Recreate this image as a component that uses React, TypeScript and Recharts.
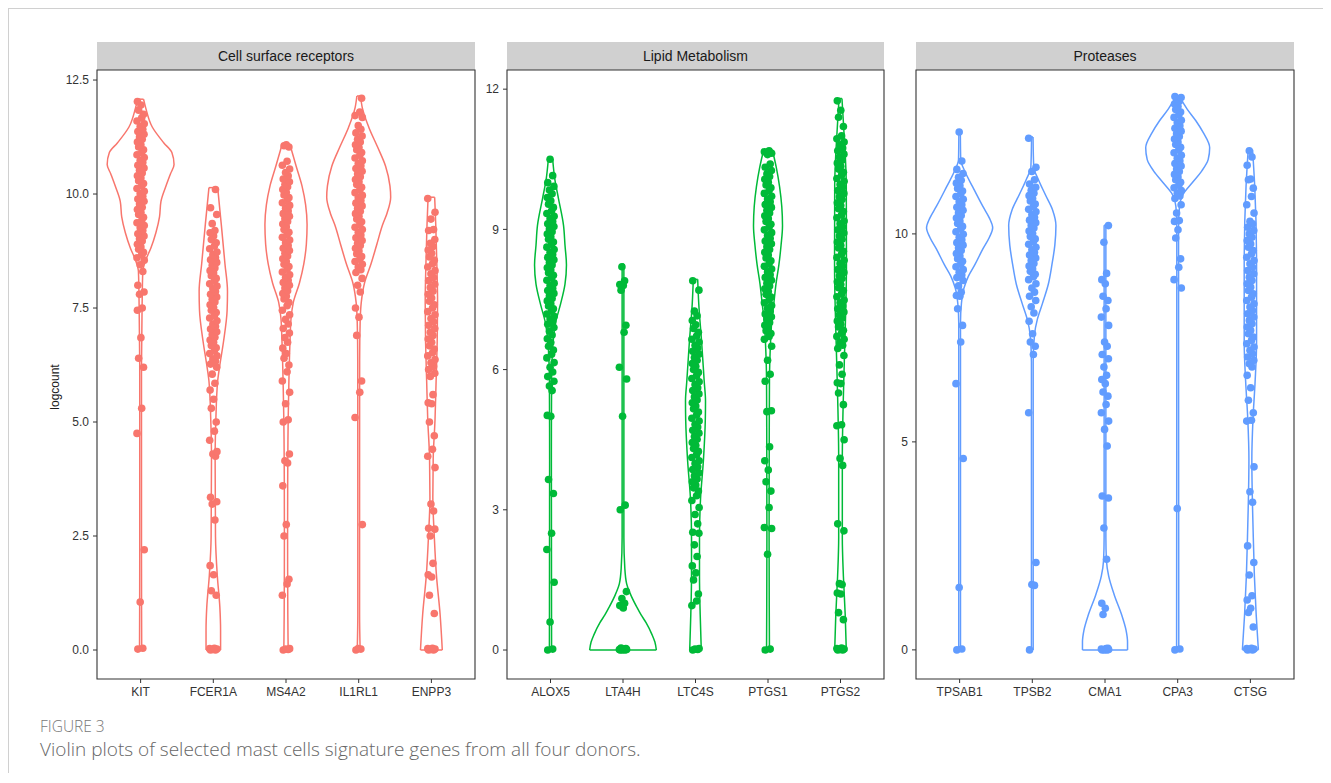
import { ComposedChart, XAxis, YAxis, Line, Scatter, ReferenceArea } from "recharts";

const PANEL_TITLES = ["Cell surface receptors", "Lipid Metabolism", "Proteases"];
const GENES_SURFACE = ["KIT", "FCER1A", "MS4A2", "IL1RL1", "ENPP3"];
const GENES_LIPID = ["ALOX5", "LTA4H", "LTC4S", "PTGS1", "PTGS2"];
const GENES_PROTEASE = ["TPSAB1", "TPSB2", "CMA1", "CPA3", "CTSG"];

const TICKS_SURFACE = [0, 2.5, 5, 7.5, 10, 12.5];
const TICKS_LIPID = [0, 3, 6, 9, 12];
const TICKS_PROTEASE = [0, 5, 10];

// logcount of each cell, per gene
const KIT = [0.02, 0.04, 1.05, 2.2, 4.75, 5.3, 6.2, 6.4, 6.85, 7.45, 7.5, 7.8, 7.85, 8.0, 8.3, 8.45,
  8.55, 8.6, 8.67, 8.72, 8.79, 8.84, 8.9, 8.97, 9.02, 9.08, 9.13, 9.2, 9.26, 9.31, 9.37, 9.42, 9.49, 9.55, 9.6, 9.66,
  9.71, 9.78, 9.84, 9.89, 9.95, 10.01, 10.06, 10.12, 10.18, 10.23, 10.29, 10.35, 10.4, 10.46, 10.52, 10.57, 10.63,
  10.69, 10.74, 10.8, 10.86, 10.91, 10.97, 11.03, 11.08, 11.14, 11.2, 11.25, 11.31, 11.37, 11.42, 11.48, 11.54, 11.6,
  11.67, 11.75, 11.84, 11.95, 12.03];
const FCER1A = [0, 0, 0.01, 0.02, 0.03, 0.04, 1.2, 1.3, 1.65, 1.85, 2.85, 3.2, 3.25, 3.35, 4.25, 4.3, 4.35, 4.6, 4.8,
  5.0, 5.3, 5.5, 5.7, 5.85, 6.05, 6.2, 6.27, 6.33, 6.38, 6.45, 6.5, 6.57, 6.63, 6.68, 6.75, 6.8, 6.86, 6.92, 6.98,
  7.04, 7.1, 7.15, 7.22, 7.28, 7.33, 7.4, 7.45, 7.51, 7.57, 7.63, 7.69, 7.74, 7.8, 7.86, 7.92, 7.98, 8.03, 8.09, 8.15,
  8.21, 8.27, 8.32, 8.38, 8.44, 8.5, 8.56, 8.61, 8.67, 8.73, 8.8, 8.86, 8.93, 9.0, 9.08, 9.15, 9.2, 9.35, 9.55, 9.7, 10.1];
const MS4A2 = [0, 0.01, 0.02, 0.03, 1.2, 1.45, 1.55, 2.5, 2.75, 3.6, 4.1, 4.15, 4.3, 5.0, 5.05, 5.4, 5.65, 5.9, 6.1,
  6.25, 6.4, 6.5, 6.62, 6.75, 6.85, 6.95, 7.05, 7.15, 7.25, 7.35, 7.45, 7.55, 7.62, 7.7, 7.76, 7.82, 7.88, 7.94, 8.0,
  8.06, 8.11, 8.17, 8.23, 8.29, 8.35, 8.41, 8.46, 8.52, 8.58, 8.64, 8.7, 8.76, 8.81, 8.87, 8.93, 8.99, 9.05, 9.11,
  9.16, 9.22, 9.28, 9.34, 9.4, 9.46, 9.51, 9.57, 9.63, 9.69, 9.75, 9.81, 9.86, 9.92, 9.98, 10.04, 10.1, 10.16, 10.21,
  10.27, 10.33, 10.4, 10.47, 10.55, 10.63, 10.72, 11.03, 11.06, 11.08];
const IL1RL1 = [0, 0.02, 0.03, 2.75, 5.1, 5.65, 5.9, 6.9, 7.3, 7.5, 7.85, 8.0, 8.15, 8.28, 8.34, 8.4, 8.46, 8.52,
  8.57, 8.63, 8.69, 8.75, 8.81, 8.87, 8.92, 8.98, 9.04, 9.1, 9.16, 9.22, 9.27, 9.33, 9.39, 9.45, 9.51, 9.57, 9.62,
  9.68, 9.74, 9.8, 9.86, 9.92, 9.97, 10.03, 10.09, 10.15, 10.21, 10.27, 10.32, 10.38, 10.44, 10.5, 10.56, 10.62,
  10.67, 10.73, 10.79, 10.85, 10.91, 10.97, 11.02, 11.08, 11.14, 11.2, 11.27, 11.34, 11.42, 11.5, 11.68, 11.72, 11.8, 12.1];
const ENPP3 = [0, 0, 0.01, 0.02, 0.03, 0.04, 0.8, 1.2, 1.6, 1.65, 1.9, 2.5, 2.65, 2.67, 3.05, 3.2, 4.0, 4.25, 4.4,
  4.7, 5.0, 5.4, 5.42, 5.6, 6.0, 6.07, 6.15, 6.22, 6.3, 6.37, 6.45, 6.52, 6.6, 6.67, 6.75, 6.82, 6.9, 6.97, 7.05,
  7.12, 7.2, 7.27, 7.35, 7.42, 7.5, 7.57, 7.65, 7.72, 7.8, 7.87, 7.95, 8.02, 8.1, 8.17, 8.25, 8.32, 8.4, 8.47, 8.55,
  8.62, 8.7, 8.77, 8.85, 8.92, 9.0, 9.2, 9.22, 9.45, 9.6, 9.9];

const ALOX5 = [0, 0.02, 0.6, 1.45, 2.15, 2.5, 3.35, 3.65, 5.0, 5.02, 5.55, 5.65, 5.75, 5.85, 5.95, 6.05, 6.15, 6.25,
  6.33, 6.42, 6.5, 6.58, 6.66, 6.74, 6.82, 6.9, 6.97, 7.03, 7.08, 7.14, 7.19, 7.25, 7.3, 7.36, 7.41, 7.47, 7.52,
  7.58, 7.63, 7.69, 7.74, 7.8, 7.85, 7.91, 7.96, 8.02, 8.07, 8.13, 8.18, 8.24, 8.29, 8.35, 8.4, 8.46, 8.51, 8.57,
  8.62, 8.68, 8.73, 8.79, 8.84, 8.9, 8.95, 9.01, 9.06, 9.12, 9.17, 9.23, 9.28, 9.34, 9.4, 9.47, 9.54, 9.61, 9.68,
  9.76, 9.84, 9.92, 10.0, 10.15, 10.5];
const LTA4H = [0, 0, 0, 0.01, 0.01, 0.02, 0.03, 0.04, 0.9, 0.95, 1.0, 1.1, 1.25, 3.0, 3.1, 5.0, 5.8, 6.05, 6.8, 6.95,
  7.7, 7.8, 7.82, 7.9, 8.2];
const LTC4S = [0, 0.01, 0.02, 0.03, 0.95, 1.05, 1.2, 1.5, 1.65, 1.8, 2.0, 2.25, 2.5, 2.52, 2.7, 2.9, 3.05, 3.2, 3.3,
  3.4, 3.47, 3.53, 3.6, 3.66, 3.73, 3.79, 3.86, 3.92, 3.99, 4.05, 4.12, 4.18, 4.25, 4.31, 4.38, 4.44, 4.51, 4.57,
  4.64, 4.7, 4.77, 4.83, 4.9, 4.96, 5.03, 5.09, 5.16, 5.22, 5.29, 5.35, 5.42, 5.48, 5.55, 5.61, 5.68, 5.74, 5.81,
  5.87, 5.94, 6.0, 6.07, 6.13, 6.2, 6.26, 6.33, 6.39, 6.46, 6.52, 6.59, 6.65, 6.72, 6.8, 6.88, 6.96, 7.05, 7.15,
  7.25, 7.7, 7.9];
const PTGS1 = [0, 0.02, 2.05, 2.6, 2.62, 3.05, 3.4, 3.6, 3.85, 4.05, 4.35, 5.1, 5.12, 5.75, 5.9, 6.2, 6.5, 6.65,
  6.71, 6.77, 6.83, 6.89, 6.95, 7.01, 7.07, 7.13, 7.19, 7.25, 7.31, 7.37, 7.43, 7.49, 7.55, 7.61, 7.67, 7.73, 7.79,
  7.85, 7.91, 7.97, 8.03, 8.09, 8.15, 8.21, 8.27, 8.33, 8.39, 8.45, 8.51, 8.57, 8.63, 8.69, 8.75, 8.81, 8.87, 8.93,
  8.99, 9.05, 9.11, 9.17, 9.23, 9.29, 9.35, 9.41, 9.47, 9.53, 9.59, 9.65, 9.71, 9.77, 9.83, 9.89, 9.95, 10.01,
  10.07, 10.13, 10.19, 10.26, 10.33, 10.4, 10.6, 10.63, 10.66, 10.68];
const PTGS2 = [0, 0, 0.01, 0.02, 0.03, 0.04, 0.65, 0.8, 1.2, 1.22, 1.4, 1.42, 2.55, 2.7, 3.95, 4.1, 4.5, 4.8, 4.82,
  5.25, 5.5, 5.7, 5.72, 5.9, 6.1, 6.3, 6.45, 6.52, 6.58, 6.65, 6.71, 6.78, 6.84, 6.91, 6.97, 7.04, 7.1, 7.17, 7.23,
  7.3, 7.36, 7.43, 7.49, 7.56, 7.62, 7.69, 7.75, 7.82, 7.88, 7.95, 8.01, 8.08, 8.14, 8.21, 8.27, 8.34, 8.4, 8.47,
  8.53, 8.6, 8.66, 8.73, 8.79, 8.86, 8.92, 8.99, 9.05, 9.12, 9.18, 9.25, 9.31, 9.38, 9.44, 9.51, 9.57, 9.64, 9.7,
  9.77, 9.83, 9.9, 9.96, 10.03, 10.09, 10.16, 10.22, 10.29, 10.35, 10.42, 10.48, 10.55, 10.61, 10.68, 10.74, 10.81,
  10.87, 10.94, 11.0, 11.2, 11.4, 11.55, 11.75];

const TPSAB1 = [0, 0.02, 1.5, 4.6, 6.4, 7.4, 7.8, 8.2, 8.5, 8.52, 8.6, 8.75, 8.88, 8.95, 9.01, 9.08, 9.14, 9.21,
  9.27, 9.34, 9.4, 9.47, 9.53, 9.6, 9.66, 9.73, 9.79, 9.86, 9.92, 9.99, 10.05, 10.12, 10.18, 10.25, 10.31, 10.38,
  10.44, 10.51, 10.57, 10.64, 10.7, 10.77, 10.83, 10.9, 10.96, 11.03, 11.09, 11.16, 11.22, 11.29, 11.36, 11.45,
  11.55, 11.75, 12.45];
const TPSB2 = [0, 1.55, 1.57, 2.1, 5.7, 7.1, 7.3, 7.4, 7.6, 7.9, 8.1, 8.25, 8.4, 8.5, 8.6, 8.7, 8.8, 8.9, 8.97, 9.03,
  9.1, 9.16, 9.23, 9.29, 9.36, 9.42, 9.49, 9.55, 9.62, 9.68, 9.75, 9.81, 9.88, 9.94, 10.01, 10.07, 10.14, 10.2,
  10.27, 10.33, 10.4, 10.46, 10.53, 10.59, 10.66, 10.72, 10.79, 10.85, 10.92, 10.98, 11.05, 11.12, 11.2, 11.3, 11.5,
  11.6, 12.3];
const CMA1 = [0, 0, 0, 0.01, 0.02, 0.03, 0.04, 0.85, 1.0, 1.12, 2.18, 2.93, 3.65, 3.7, 4.9, 5.3, 5.5, 5.7, 5.9, 6.1,
  6.2, 6.4, 6.5, 6.6, 6.8, 7.0, 7.1, 7.3, 7.4, 7.8, 8.0, 8.2, 8.4, 8.5, 8.8, 8.9, 9.05, 9.8, 10.2];
const CPA3 = [0, 0.02, 3.4, 8.7, 8.9, 9.2, 9.4, 9.9, 10.1, 10.3, 10.32, 10.5, 10.7, 10.85, 10.91, 10.98, 11.04,
  11.11, 11.17, 11.24, 11.3, 11.37, 11.43, 11.5, 11.56, 11.63, 11.69, 11.76, 11.82, 11.89, 11.95, 12.02, 12.08,
  12.15, 12.21, 12.28, 12.34, 12.41, 12.47, 12.54, 12.6, 12.67, 12.73, 12.8, 12.86, 12.93, 12.99, 13.06, 13.12,
  13.19, 13.25, 13.28, 13.3];
const CTSG = [0, 0, 0.01, 0.02, 0.03, 0.04, 0.55, 0.9, 1.0, 1.2, 1.3, 1.8, 2.1, 2.5, 3.55, 3.8, 4.4, 5.5, 5.52, 5.7,
  6.0, 6.3, 6.6, 6.8, 6.88, 6.96, 7.04, 7.12, 7.2, 7.28, 7.36, 7.44, 7.52, 7.6, 7.68, 7.76, 7.84, 7.92, 8.0, 8.08,
  8.16, 8.24, 8.32, 8.4, 8.48, 8.56, 8.64, 8.72, 8.8, 8.88, 8.96, 9.04, 9.12, 9.2, 9.28, 9.36, 9.44, 9.52, 9.6,
  9.68, 9.76, 9.84, 9.92, 10.0, 10.08, 10.16, 10.24, 10.3, 10.5, 10.7, 10.9, 11.1, 11.3, 11.32, 11.65, 11.85, 12.0];

// violin outlines: [logcount, half width in category units]
const KIT_VIOLIN = [[0, 0.015], [2, 0.012], [6, 0.012], [7.5, 0.02], [8.3, 0.03], [8.55, 0.07], [8.81, 0.14], [9.15, 0.21], [9.5, 0.26], [9.84, 0.28], [10.18, 0.35], [10.44, 0.41], [10.65, 0.46], [10.91, 0.43], [11.12, 0.32], [11.47, 0.16], [11.89, 0.07], [12.08, 0.04]];
const FCER1A_VIOLIN = [[0, 0.1], [0.43, 0.1], [0.94, 0.09], [1.63, 0.055], [2.49, 0.03], [4.19, 0.025], [5.05, 0.035], [5.9, 0.06], [6.25, 0.09], [6.76, 0.14], [7.45, 0.19], [7.87, 0.195], [8.47, 0.16], [9.33, 0.11], [10.14, 0.06]];
const MS4A2_VIOLIN = [[0, 0.03], [0.78, 0.025], [2.49, 0.022], [4.2, 0.025], [5.05, 0.03], [5.9, 0.04], [6.76, 0.055], [7.28, 0.07], [7.62, 0.1], [8.05, 0.185], [8.47, 0.245], [8.9, 0.28], [9.33, 0.29], [9.76, 0.27], [10.18, 0.22], [10.61, 0.14], [11.08, 0.055]];
const IL1RL1_VIOLIN = [[0, 0.02], [0.78, 0.012], [6.34, 0.013], [7.19, 0.02], [7.62, 0.035], [8.05, 0.08], [8.47, 0.17], [8.9, 0.25], [9.33, 0.33], [9.58, 0.39], [9.93, 0.44], [10.18, 0.43], [10.61, 0.37], [11.03, 0.26], [11.46, 0.14], [11.89, 0.05], [12.15, 0.025]];
const ENPP3_VIOLIN = [[0, 0.15], [0.78, 0.12], [1.63, 0.07], [2.49, 0.04], [3.34, 0.02], [4.2, 0.025], [5.05, 0.05], [5.9, 0.065], [6.76, 0.08], [7.62, 0.085], [8.47, 0.075], [9.33, 0.06], [9.93, 0.045]];

const ALOX5_VIOLIN = [[0, 0.015], [4.08, 0.012], [5.75, 0.015], [6.58, 0.035], [7.0, 0.07], [7.41, 0.14], [7.83, 0.2], [8.24, 0.22], [8.66, 0.2], [9.08, 0.18], [9.66, 0.11], [10.07, 0.06], [10.5, 0.03]];
const LTA4H_VIOLIN = [[0, 0.46], [0.17, 0.44], [0.33, 0.4], [0.58, 0.32], [0.75, 0.25], [0.92, 0.19], [1.17, 0.11], [1.42, 0.05], [1.75, 0.025], [2.41, 0.012], [8.26, 0.012]];
const LTC4S_VIOLIN = [[0, 0.08], [0.75, 0.065], [1.58, 0.055], [2.41, 0.055], [3.25, 0.07], [4.08, 0.11], [4.91, 0.135], [5.33, 0.138], [5.75, 0.12], [6.58, 0.085], [7.41, 0.045], [7.93, 0.03]];
const PTGS1_VIOLIN = [[0, 0.02], [2.41, 0.015], [5.75, 0.02], [6.58, 0.035], [7.0, 0.05], [7.41, 0.08], [7.83, 0.11], [8.24, 0.15], [8.66, 0.18], [9.08, 0.2], [9.49, 0.19], [9.91, 0.16], [10.32, 0.115], [10.7, 0.06]];
const PTGS2_VIOLIN = [[0, 0.08], [0.75, 0.065], [1.58, 0.04], [2.41, 0.025], [4.08, 0.025], [5.75, 0.045], [6.58, 0.06], [8.24, 0.082], [9.91, 0.08], [11.16, 0.045], [11.8, 0.02]];

const TPSAB1_VIOLIN = [[0, 0.012], [7.86, 0.012], [8.33, 0.025], [8.7, 0.06], [8.98, 0.12], [9.26, 0.21], [9.64, 0.32], [9.92, 0.41], [10.15, 0.455], [10.38, 0.41], [10.66, 0.32], [11.13, 0.18], [11.51, 0.07], [11.79, 0.015], [12.46, 0.01]];
const TPSB2_VIOLIN = [[0, 0.012], [6.92, 0.012], [7.58, 0.03], [7.95, 0.07], [8.33, 0.14], [8.79, 0.22], [9.26, 0.27], [9.73, 0.31], [10.2, 0.325], [10.57, 0.28], [10.94, 0.18], [11.32, 0.08], [11.6, 0.02], [12.33, 0.01]];
const CMA1_VIOLIN = [[0, 0.31], [0.19, 0.31], [0.47, 0.29], [0.84, 0.23], [1.31, 0.13], [1.78, 0.05], [2.15, 0.02], [2.71, 0.012], [10.21, 0.012]];
const CPA3_VIOLIN = [[0, 0.015], [10.2, 0.012], [10.66, 0.025], [10.94, 0.07], [11.23, 0.2], [11.51, 0.33], [11.79, 0.42], [12.07, 0.44], [12.44, 0.35], [12.72, 0.25], [13.0, 0.13], [13.28, 0.03]];
const CTSG_VIOLIN = [[0, 0.11], [0.84, 0.08], [1.78, 0.055], [2.71, 0.04], [4.58, 0.02], [5.52, 0.035], [6.45, 0.065], [7.39, 0.085], [9.26, 0.085], [11.13, 0.06], [12.02, 0.03]];

// horizontal jitter of the cell dots
const JITTER = [-0.038, 0.03, -0.006, 0.05, -0.05, 0.015, 0.04, -0.027, 0.004, -0.044, 0.022, -0.015, 0.047];

type Pair = number[];

const PANELS = [
  {
    title: PANEL_TITLES[0], genes: GENES_SURFACE, ticks: TICKS_SURFACE, color: "#F8766D",
    values: [KIT, FCER1A, MS4A2, IL1RL1, ENPP3],
    violins: [KIT_VIOLIN, FCER1A_VIOLIN, MS4A2_VIOLIN, IL1RL1_VIOLIN, ENPP3_VIOLIN],
    domain: [-0.636, 12.72], fmt: (v: number) => v.toFixed(1),
    left: 0, width: 468, yWidth: 88, stripLeft: 88, stripWidth: 378,
  },
  {
    title: PANEL_TITLES[1], genes: GENES_LIPID, ticks: TICKS_LIPID, color: "#00BA38",
    values: [ALOX5, LTA4H, LTC4S, PTGS1, PTGS2],
    violins: [ALOX5_VIOLIN, LTA4H_VIOLIN, LTC4S_VIOLIN, PTGS1_VIOLIN, PTGS2_VIOLIN],
    domain: [-0.62, 12.41], fmt: (v: number) => String(v),
    left: 467, width: 410, yWidth: 31, stripLeft: 498, stripWidth: 377,
  },
  {
    title: PANEL_TITLES[2], genes: GENES_PROTEASE, ticks: TICKS_PROTEASE, color: "#619CFF",
    values: [TPSAB1, TPSB2, CMA1, CPA3, CTSG],
    violins: [TPSAB1_VIOLIN, TPSB2_VIOLIN, CMA1_VIOLIN, CPA3_VIOLIN, CTSG_VIOLIN],
    domain: [-0.7, 13.94], fmt: (v: number) => String(v),
    left: 876, width: 411, yWidth: 31, stripLeft: 907, stripWidth: 378,
  },
];

const X_DOMAIN = [-0.6, 4.6];

function outline(profile: Pair[], i: number) {
  const first = profile[0];
  const last = profile[profile.length - 1];
  return [
    profile.map(([y, w]) => ({ x: i + w, y })),
    profile.map(([y, w]) => ({ x: i - w, y })),
    [{ x: i - first[1], y: first[0] }, { x: i + first[1], y: first[0] }],
    [{ x: i - last[1], y: last[0] }, { x: i + last[1], y: last[0] }],
  ];
}

function Panel({ p }: { p: (typeof PANELS)[number] }) {
  const dot = (props: any) => <circle cx={props.cx} cy={props.cy} r={3.8} fill={p.color} />;
  return (
    <ComposedChart width={p.width} height={700} margin={{ top: 61, right: 2, bottom: 0, left: 0 }}>
      <XAxis
        type="number"
        dataKey="x"
        domain={X_DOMAIN}
        ticks={[0, 1, 2, 3, 4]}
        interval={0}
        allowDataOverflow
        tickFormatter={(v) => p.genes[Math.round(v)]}
        axisLine={false}
        tickSize={4}
        tickMargin={4}
        tickLine={{ stroke: "#333" }}
        tick={{ fontSize: 12, fill: "#333" }}
        height={30}
      />
      <YAxis
        type="number"
        dataKey="y"
        domain={p.domain}
        ticks={p.ticks}
        interval={0}
        allowDataOverflow
        tickFormatter={p.fmt}
        axisLine={false}
        tickSize={4}
        tickMargin={4}
        tickLine={{ stroke: "#333" }}
        tick={{ fontSize: 12, fill: "#333" }}
        width={p.yWidth}
      />
      <ReferenceArea x1={X_DOMAIN[0]} x2={X_DOMAIN[1]} y1={p.domain[0]} y2={p.domain[1]} fill="none" stroke="#333" strokeWidth={1.1} />
      {p.violins.map((v, i) =>
        outline(v, i).map((d, k) => (
          <Line
            key={`v${i}-${k}`}
            data={d}
            dataKey="y"
            type={k < 2 ? "monotoneY" : "linear"}
            stroke={p.color}
            strokeWidth={1.5}
            dot={false}
            activeDot={false}
            isAnimationActive={false}
          />
        ))
      )}
      {p.values.map((vals, i) => (
        <Scatter
          key={`s${i}`}
          data={vals.map((y, k) => ({ x: i + JITTER[k % JITTER.length], y }))}
          shape={dot}
          isAnimationActive={false}
        />
      ))}
    </ComposedChart>
  );
}

export default function App() {
  return (
    <div
      style={{
        position: "relative",
        width: 1323,
        height: 765,
        boxSizing: "border-box",
        borderTop: "1px solid #d0d0d0",
        borderLeft: "1px solid #d0d0d0",
        fontFamily: "'Liberation Sans', Arial, Helvetica, sans-serif",
      }}
    >
      {PANELS.map((p) => (
        <div key={p.title}>
          <div
            style={{
              position: "absolute",
              left: p.stripLeft,
              top: 33,
              width: p.stripWidth,
              height: 28,
              lineHeight: "28px",
              background: "#d0d0d0",
              textAlign: "center",
              fontSize: 14,
              color: "#1a1a1a",
            }}
          >
            {p.title}
          </div>
          <div style={{ position: "absolute", left: p.left, top: 0 }}>
            <Panel p={p} />
          </div>
        </div>
      ))}
      <div
        style={{
          position: "absolute",
          left: 46,
          top: 378,
          transform: "translate(-50%, -50%) rotate(-90deg)",
          fontSize: 12,
          color: "#1a1a1a",
          whiteSpace: "nowrap",
        }}
      >
        logcount
      </div>
      <div
        style={{
          position: "absolute",
          left: 31,
          top: 708,
          fontFamily: "'Open Sans', 'Noto Sans', sans-serif",
          fontSize: 15.5,
          fontWeight: 300,
          lineHeight: "18px",
          color: "#777",
        }}
      >
        FIGURE 3
      </div>
      <div
        style={{
          position: "absolute",
          left: 31,
          top: 728,
          fontFamily: "'Open Sans', 'Noto Sans', sans-serif",
          fontSize: 19,
          fontWeight: 300,
          lineHeight: "24px",
          color: "#666",
          whiteSpace: "nowrap",
        }}
      >
        Violin plots of selected mast cells signature genes from all four donors.
      </div>
    </div>
  );
}
